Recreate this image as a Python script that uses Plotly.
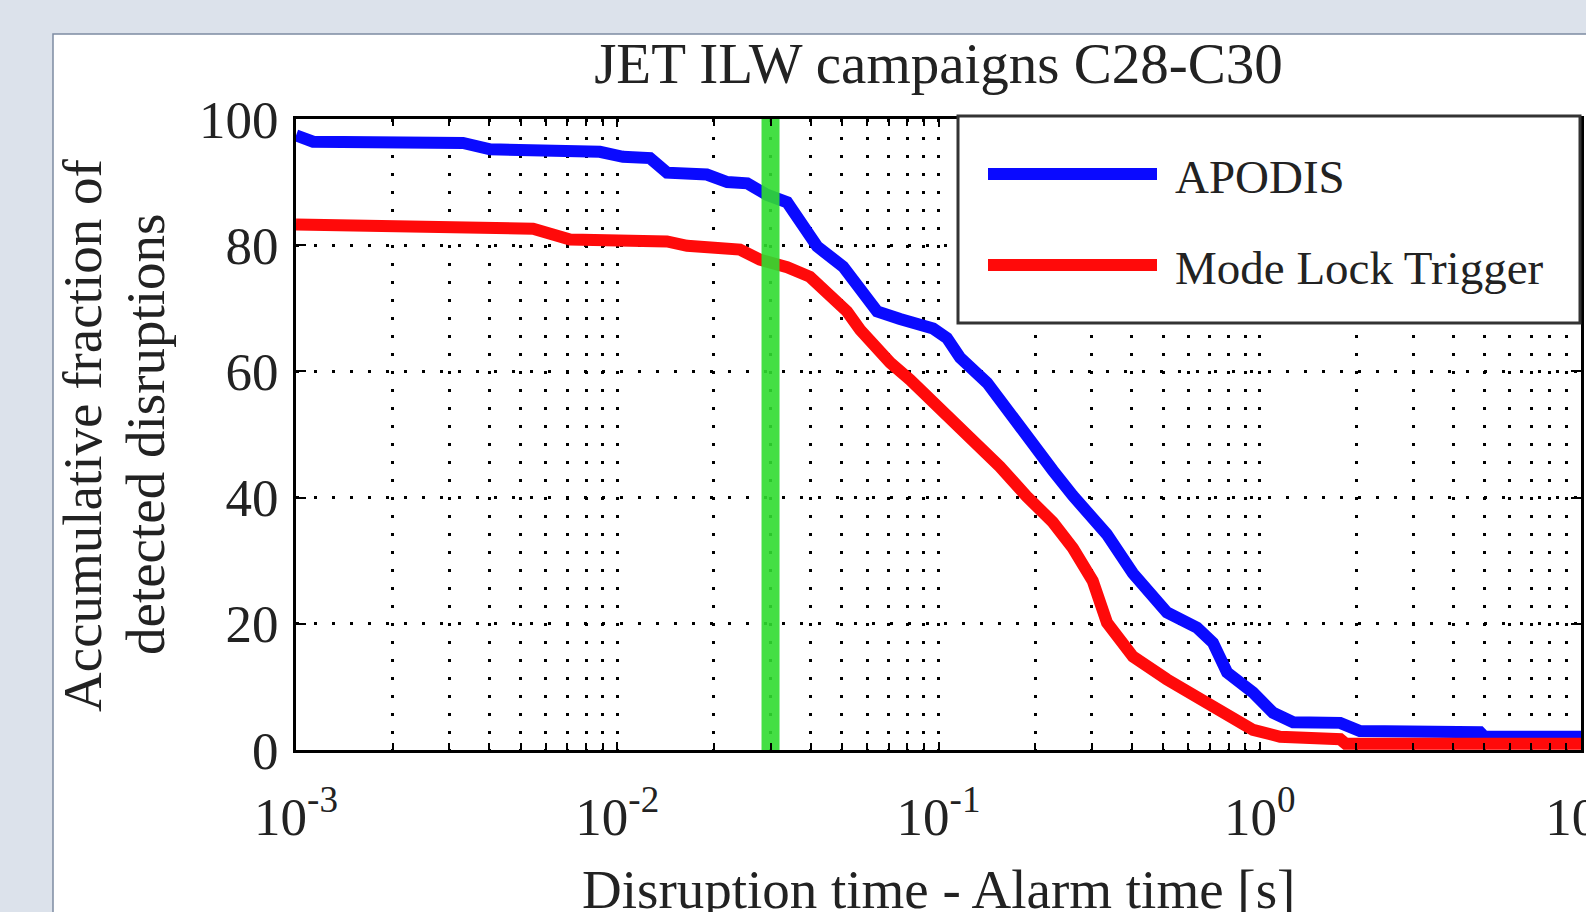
import plotly.graph_objects as go

# ---------------- data ----------------
title_text = "JET ILW campaigns C28-C30"
x_title = "Disruption time - Alarm time [s]"
y_title_lines = ["Accumulative fraction of", "detected disruptions"]

apodis_name = "APODIS"
apodis_t = [0.001, 0.00113, 0.00331, 0.00402, 0.00883, 0.01042, 0.01265, 0.01428,
            0.0190, 0.0220, 0.0254, 0.0292, 0.0338, 0.0371, 0.0419, 0.0505, 0.0570,
            0.0644, 0.0759, 0.0962, 0.1062, 0.1167, 0.1416, 0.163, 0.188, 0.227,
            0.262, 0.334, 0.403, 0.514, 0.638, 0.715, 0.791, 0.953, 1.10, 1.27,
            1.78, 2.05, 4.85, 5.0, 10.0]
apodis_pct = [97.4, 96.4, 96.2, 95.2, 94.8, 94.0, 93.8, 91.5,
              91.2, 90.0, 89.8, 88.0, 86.8, 83.6, 79.8, 76.6, 73.0,
              69.5, 68.3, 66.8, 65.3, 62.2, 58.2, 54.0, 49.2, 44.3,
              40.3, 34.2, 28.0, 21.8, 19.4, 17.0, 12.3, 9.1, 5.9, 4.4,
              4.3, 3.0, 2.8, 2.1, 2.1]

mlt_name = "Mode Lock Trigger"
mlt_t = [0.001, 0.00331, 0.00547, 0.00713, 0.01428, 0.0165, 0.0241, 0.0278,
         0.0338, 0.0398, 0.0470, 0.0519, 0.0570, 0.0707, 0.0815, 0.0962, 0.1227,
         0.1553, 0.188, 0.227, 0.262, 0.302, 0.3345, 0.403, 0.514, 0.652, 0.791,
         0.953, 1.157, 1.78, 1.85, 10.0]
mlt_pct = [83.3, 83.0, 82.6, 80.9, 80.6, 79.9, 79.3, 77.7,
           76.5, 75.0, 71.9, 69.5, 66.6, 61.4, 58.7, 55.3, 49.7,
           44.9, 40.2, 36.1, 32.0, 26.8, 20.2, 14.8, 11.2, 8.0, 5.3,
           3.2, 2.1, 1.7, 1.0, 1.0]

alarm_t = [0.03, 0.03]
alarm_pct = [0, 100]

x_decades = [1e-3, 1e-2, 1e-1, 1e0, 1e1]
x_decade_labels = ["10<sup>-3</sup>", "10<sup>-2</sup>", "10<sup>-1</sup>",
                   "10<sup>0</sup>", "10<sup>1</sup>"]
y_ticks = [0, 20, 40, 60, 80, 100]

# ---------------- styling ----------------
FONT = "Liberation Serif"
TXT = "#222222"
BLUE = "#0a0aff"
RED = "#ff0a0a"
GREEN = "#30dc30"

# minor log positions 2..9 within each decade (axis configuration)
x_minor = [k * d for d in x_decades[:-1] for k in range(2, 10)]

fig = go.Figure()
fig.add_trace(go.Scatter(x=apodis_t, y=apodis_pct, mode="lines", name=apodis_name,
                         line=dict(color=BLUE, width=12), showlegend=False))
fig.add_trace(go.Scatter(x=mlt_t, y=mlt_pct, mode="lines", name=mlt_name,
                         line=dict(color=RED, width=12), showlegend=False))
fig.add_trace(go.Scatter(x=alarm_t, y=alarm_pct, mode="lines", name="30 ms",
                         line=dict(color=GREEN, width=18), opacity=0.9,
                         showlegend=False))

# plot-area geometry (pixels)
W, H = 1586, 912
L, R, T, B = 296, 5, 119, 162
PW, PH = W - L - R, H - T - B


def px(x):
    return (x - L) / PW


def py(y):
    return (H - B - y) / PH


DASH = "3px,15px"
GRIDC = "#000000"
GW = 2.5

fig.update_layout(
    template="none",
    width=W, height=H, autosize=False,
    margin=dict(l=L, r=R, t=T, b=B, pad=0),
    paper_bgcolor="#dce2eb",
    plot_bgcolor="white",
    font=dict(family=FONT, color=TXT, size=50),
    title=dict(text=title_text, x=0.5, xref="paper", xanchor="center",
               y=1 - 63 / H, yref="container", yanchor="middle",
               font=dict(family=FONT, size=57, color=TXT)),
    xaxis=dict(type="log", range=[-3, 1], tickmode="array",
               tickvals=x_decades, ticktext=x_decade_labels,
               ticks="inside", ticklen=8, tickwidth=2, tickcolor="black",
               showline=True, linecolor="black", linewidth=3, mirror="ticks",
               tickfont=dict(family=FONT, size=53, color=TXT),
               ticklabelstandoff=18, ticklabeloverflow="allow",
               automargin=False, zeroline=False,
               showgrid=True, gridcolor=GRIDC, gridwidth=GW, griddash=DASH,
               minor=dict(tickmode="array", tickvals=x_minor, ticks="inside",
                          ticklen=7, tickwidth=2, tickcolor="black",
                          showgrid=True, gridcolor=GRIDC, gridwidth=GW,
                          griddash=DASH)),
    yaxis=dict(range=[0, 100], tickmode="array", tickvals=y_ticks,
               ticks="inside", ticklen=10, tickwidth=2, tickcolor="black",
               showline=True, linecolor="black", linewidth=3, mirror="ticks",
               tickfont=dict(family=FONT, size=53, color=TXT),
               ticklabelstandoff=4, automargin=False, zeroline=False,
               showgrid=True, gridcolor=GRIDC, gridwidth=GW, griddash=DASH),
    showlegend=False,
)

# white panel behind the chart
fig.add_shape(type="rect", xref="paper", yref="paper",
              x0=px(53), x1=1.3, y0=-0.8, y1=py(34),
              fillcolor="white", line=dict(color="#7d8ca3", width=1.5),
              layer="below")

# legend box (drawn by hand so the sample lines are long, as in the original)
fig.add_shape(type="rect", xref="paper", yref="paper",
              x0=px(958), x1=px(1580), y0=py(323), y1=py(116),
              fillcolor="white", line=dict(color="#333333", width=3),
              layer="above")
fig.add_shape(type="line", xref="paper", yref="paper",
              x0=px(988), x1=px(1157), y0=py(174), y1=py(174),
              line=dict(color=BLUE, width=12), layer="above")
fig.add_shape(type="line", xref="paper", yref="paper",
              x0=px(988), x1=px(1157), y0=py(265), y1=py(265),
              line=dict(color=RED, width=12), layer="above")
fig.add_annotation(text=apodis_name, xref="paper", yref="paper",
                   x=px(1173), y=py(177), xanchor="left", yanchor="middle",
                   showarrow=False, font=dict(family=FONT, size=47, color=TXT))
fig.add_annotation(text=mlt_name, xref="paper", yref="paper",
                   x=px(1173), y=py(268), xanchor="left", yanchor="middle",
                   showarrow=False, font=dict(family=FONT, size=47, color=TXT))

# axis titles
fig.add_annotation(text=y_title_lines[0], xref="paper", yref="paper",
                   x=px(82), y=py(435), xanchor="center", yanchor="middle",
                   textangle=-90, showarrow=False,
                   font=dict(family=FONT, size=55, color=TXT))
fig.add_annotation(text=y_title_lines[1], xref="paper", yref="paper",
                   x=px(145), y=py(435), xanchor="center", yanchor="middle",
                   textangle=-90, showarrow=False,
                   font=dict(family=FONT, size=55, color=TXT))
fig.add_annotation(text=x_title, xref="paper", yref="paper",
                   x=0.5, y=py(889), xanchor="center", yanchor="middle",
                   showarrow=False, font=dict(family=FONT, size=55, color=TXT))

fig.write_html("out.html",
               config={"displayModeBar": False},
               post_script="document.body.style.margin='0';"
                           "document.body.style.overflow='hidden';")
